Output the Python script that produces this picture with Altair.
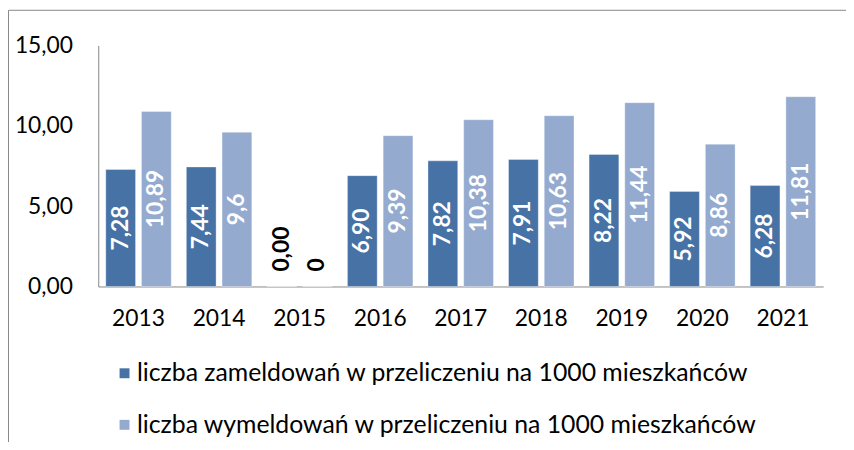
import altair as alt
import pandas as pd

years = ["2013", "2014", "2015", "2016", "2017", "2018", "2019", "2020", "2021"]
zam = [7.28, 7.44, 0.00, 6.90, 7.82, 7.91, 8.22, 5.92, 6.28]
wym = [10.89, 9.6, 0.0, 9.39, 10.38, 10.63, 11.44, 8.86, 11.81]
zam_labels = ["7,28", "7,44", "0,00", "6,90", "7,82", "7,91", "8,22", "5,92", "6,28"]
wym_labels = ["10,89", "9,6", "0", "9,39", "10,38", "10,63", "11,44", "8,86", "11,81"]
series = [
    "liczba zameldowań w przeliczeniu na 1000 mieszkańców",
    "liczba wymeldowań w przeliczeniu na 1000 mieszkańców",
]
colors = ["#4672A6", "#95AACF"]

rows = []
for i, yr in enumerate(years):
    rows.append({"year": yr, "series": series[0], "value": zam[i], "label": zam_labels[i]})
    rows.append({"year": yr, "series": series[1], "value": wym[i], "label": wym_labels[i]})
df = pd.DataFrame(rows)
df["mid"] = df["value"] / 2

FONT = "Lato"
AX = "#868686"

x_enc = alt.X(
    "year:N",
    sort=years,
    scale=alt.Scale(paddingInner=0, paddingOuter=0),
    axis=alt.Axis(title=None, labelAngle=0, ticks=False, domainColor=AX,
                  labelFont=FONT, labelFontSize=23, labelColor="black", labelPadding=21),
)
xo_enc = alt.XOffset("series:N", scale=alt.Scale(domain=series, paddingInner=0.1667, paddingOuter=0.211))
y_scale = alt.Scale(domain=[0, 15], nice=False)

base = alt.Chart(df)

bars = base.mark_bar(stroke="#ffffff", strokeOpacity=0.35, strokeWidth=1).encode(
    x=x_enc,
    xOffset=xo_enc,
    y=alt.Y(
        "value:Q",
        scale=y_scale,
        axis=alt.Axis(values=[0, 5, 10, 15], labelExpr="replace(format(datum.value,'.2f'),'.',',')",
                      ticks=False, grid=False, domainColor=AX, title=None, labelPadding=26,
                      labelFontSize=23, labelFont=FONT, labelColor="black"),
    ),
    color=alt.Color(
        "series:N",
        scale=alt.Scale(domain=series, range=colors),
        legend=alt.Legend(orient="none", legendX=14, legendY=318, direction="vertical", title=None,
                          symbolType="square", symbolSize=100, symbolStrokeWidth=0,
                          labelFont=FONT, labelFontSize=25, labelColor="black", rowPadding=26,
                          labelOffset=0, labelLimit=1000, padding=0),
    ),
)

text_in = base.transform_filter("datum.value > 0").mark_text(
    angle=270, color="white", fontWeight="bold", font=FONT, fontSize=23, baseline="middle", align="center"
).encode(x=x_enc, xOffset=xo_enc, y=alt.Y("mid:Q", scale=y_scale), text="label:N")

text_zero = base.transform_filter("datum.value == 0").mark_text(
    angle=270, color="black", fontWeight="bold", font=FONT, fontSize=23, baseline="middle", align="left", dx=15
).encode(x=x_enc, xOffset=xo_enc, y=alt.Y("value:Q", scale=y_scale), text="label:N")

one = pd.DataFrame({"k": [0]})
border_left = alt.Chart(one).mark_rule(color="#878787", strokeWidth=1).encode(
    x=alt.value(-90.5), y=alt.value(-35.5), y2=alt.value(400)
)
border_top = alt.Chart(one).mark_rule(color="#878787", strokeWidth=1).encode(
    x=alt.value(-90.5), x2=alt.value(760), y=alt.value(-35.5)
)

chart = alt.layer(bars, text_in, text_zero, border_left, border_top).properties(
    width=731,
    height=243,
    autosize=alt.AutoSizeParams(type="none"),
    padding={"left": 91, "top": 36, "right": 23, "bottom": 155},
).configure_view(stroke=None)

chart.save("out.html", embed_options={"renderer": "svg", "actions": False})
